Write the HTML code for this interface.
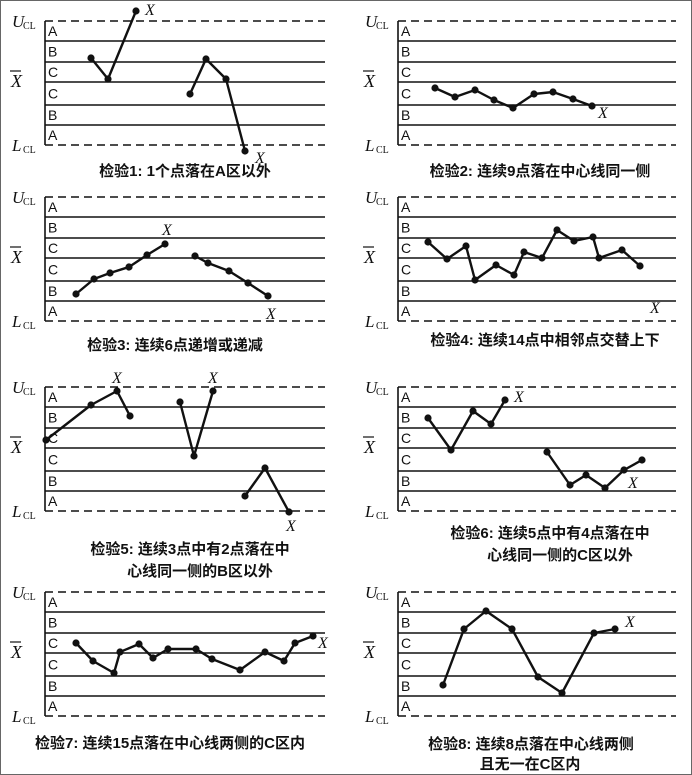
<!DOCTYPE html>
<html><head><meta charset="utf-8"><style>
html,body{margin:0;padding:0;background:#fff}
svg{display:block}
text{font-family:"Liberation Serif","Noto Serif CJK SC",serif;fill:#111}
.cap{font-family:"Liberation Sans","Noto Sans CJK SC",sans-serif;font-size:15px;font-weight:bold}
.z{font-family:"Liberation Sans",sans-serif;font-size:14px}
</style></head><body>
<svg width="692" height="775" viewBox="0 0 692 775" xmlns="http://www.w3.org/2000/svg">
<rect x="0.5" y="0.5" width="691" height="774" fill="none" stroke="#666"/>
<g id="all" stroke="#111" fill="none"></g>
<g id="txt"></g>
</svg>
<script>
const NS="http://www.w3.org/2000/svg";
const g=document.getElementById('all'),t=document.getElementById('txt');
function el(p,n,a,txt){const e=document.createElementNS(NS,n);for(const k in a)e.setAttribute(k,a[k]);if(txt)e.textContent=txt;p.appendChild(e);return e;}
const offs=[0,20,41,61,84,104,124];
const zones=['A','B','C','C','B','A'];
function panel(ax,top,right){
  offs.forEach((o,i)=>{const y=top+o;
    el(g,'line',{x1:ax,y1:y,x2:right,y2:y,'stroke-width':1.6,'stroke-dasharray':(i==0||i==6)?'8,5':'none'});});
  el(g,'line',{x1:ax,y1:top,x2:ax,y2:top+124,'stroke-width':1.6});
  zones.forEach((z,i)=>el(t,'text',{x:ax+3,y:(top+offs[i]+top+offs[i+1])/2+5,class:'z'},z));
  el(t,'text',{x:ax-33,y:top+6,'font-size':17,'font-style':'italic'},'U');
  el(t,'text',{x:ax-22,y:top+8,'font-size':10},'CL');
  el(t,'text',{x:ax-33,y:top+130,'font-size':17,'font-style':'italic'},'L');
  el(t,'text',{x:ax-22,y:top+132,'font-size':10},'CL');
  el(t,'text',{x:ax-34,y:top+66,'font-size':18,'font-style':'italic'},'X');
  el(g,'line',{x1:ax-35,y1:top+50,x2:ax-24,y2:top+50,'stroke-width':1.2});
}
function series(pts){
  el(g,'polyline',{points:pts.map(p=>p.join(',')).join(' '),'stroke-width':2.4,'stroke-linejoin':'round'});
  pts.forEach(p=>el(g,'circle',{cx:p[0],cy:p[1],r:3.6,fill:'#111',stroke:'none'}));
}
function X(x,y){el(t,'text',{x:x,y:y+5,'font-size':16,'font-style':'italic'},'X');}
function cap(x,y,s){el(t,'text',{x:x,y:y,class:'cap','text-anchor':'middle'},s);}
const rows=[21,197,387,592];
rows.forEach(r=>{panel(45,r,325);panel(398,r,676);});
// P1
series([[91,58],[108,79],[136,11]]);X(145,10);
series([[190,94],[206,59],[226,79],[245,151]]);X(255,158);
cap(185,176,'检验1: 1个点落在A区以外');
// P2
series([[435,88],[455,97],[475,90],[494,100],[513,108],[534,94],[553,92],[573,99],[592,106]]);X(598,113);
cap(540,176,'检验2: 连续9点落在中心线同一侧');
// P3
series([[76,294],[94,279],[110,273],[129,267],[147,255],[165,244]]);X(162,230);
series([[195,256],[208,263],[229,271],[248,283],[268,296]]);X(266,314);
cap(175,350,'检验3: 连续6点递增或递减');
// P4
series([[428,242],[447,259],[466,246],[475,280],[496,265],[514,275],[524,252],[542,258],[557,230],[574,241],[593,237],[599,258],[622,250],[640,266]]);X(650,308);
cap(545,345,'检验4: 连续14点中相邻点交替上下');
// P5
series([[46,440],[91,405],[117,391],[130,416]]);X(112,378);
series([[180,402],[194,456],[213,391]]);X(208,378);
series([[245,496],[265,468],[289,512]]);X(286,526);
cap(190,554,'检验5: 连续3点中有2点落在中');
cap(200,576,'心线同一侧的B区以外');
// P6
series([[428,418],[451,450],[473,411],[491,424],[505,400]]);X(514,397);
series([[547,452],[570,485],[586,475],[605,488],[624,470],[642,460]]);X(628,483);
cap(550,538,'检验6: 连续5点中有4点落在中');
cap(560,560,'心线同一侧的C区以外');
// P7
series([[76,643],[93,661],[114,673],[120,652],[139,644],[153,658],[168,649],[196,649],[212,659],[240,670],[265,652],[284,661],[295,643],[313,636]]);X(318,643);
cap(170,748,'检验7: 连续15点落在中心线两侧的C区内');
// P8
series([[443,685],[464,629],[486,611],[512,629],[538,677],[562,693],[594,633],[615,629]]);X(625,622);
cap(531,749,'检验8: 连续8点落在中心线两侧');
cap(530,769,'且无一在C区内');
</script>
</body></html>
